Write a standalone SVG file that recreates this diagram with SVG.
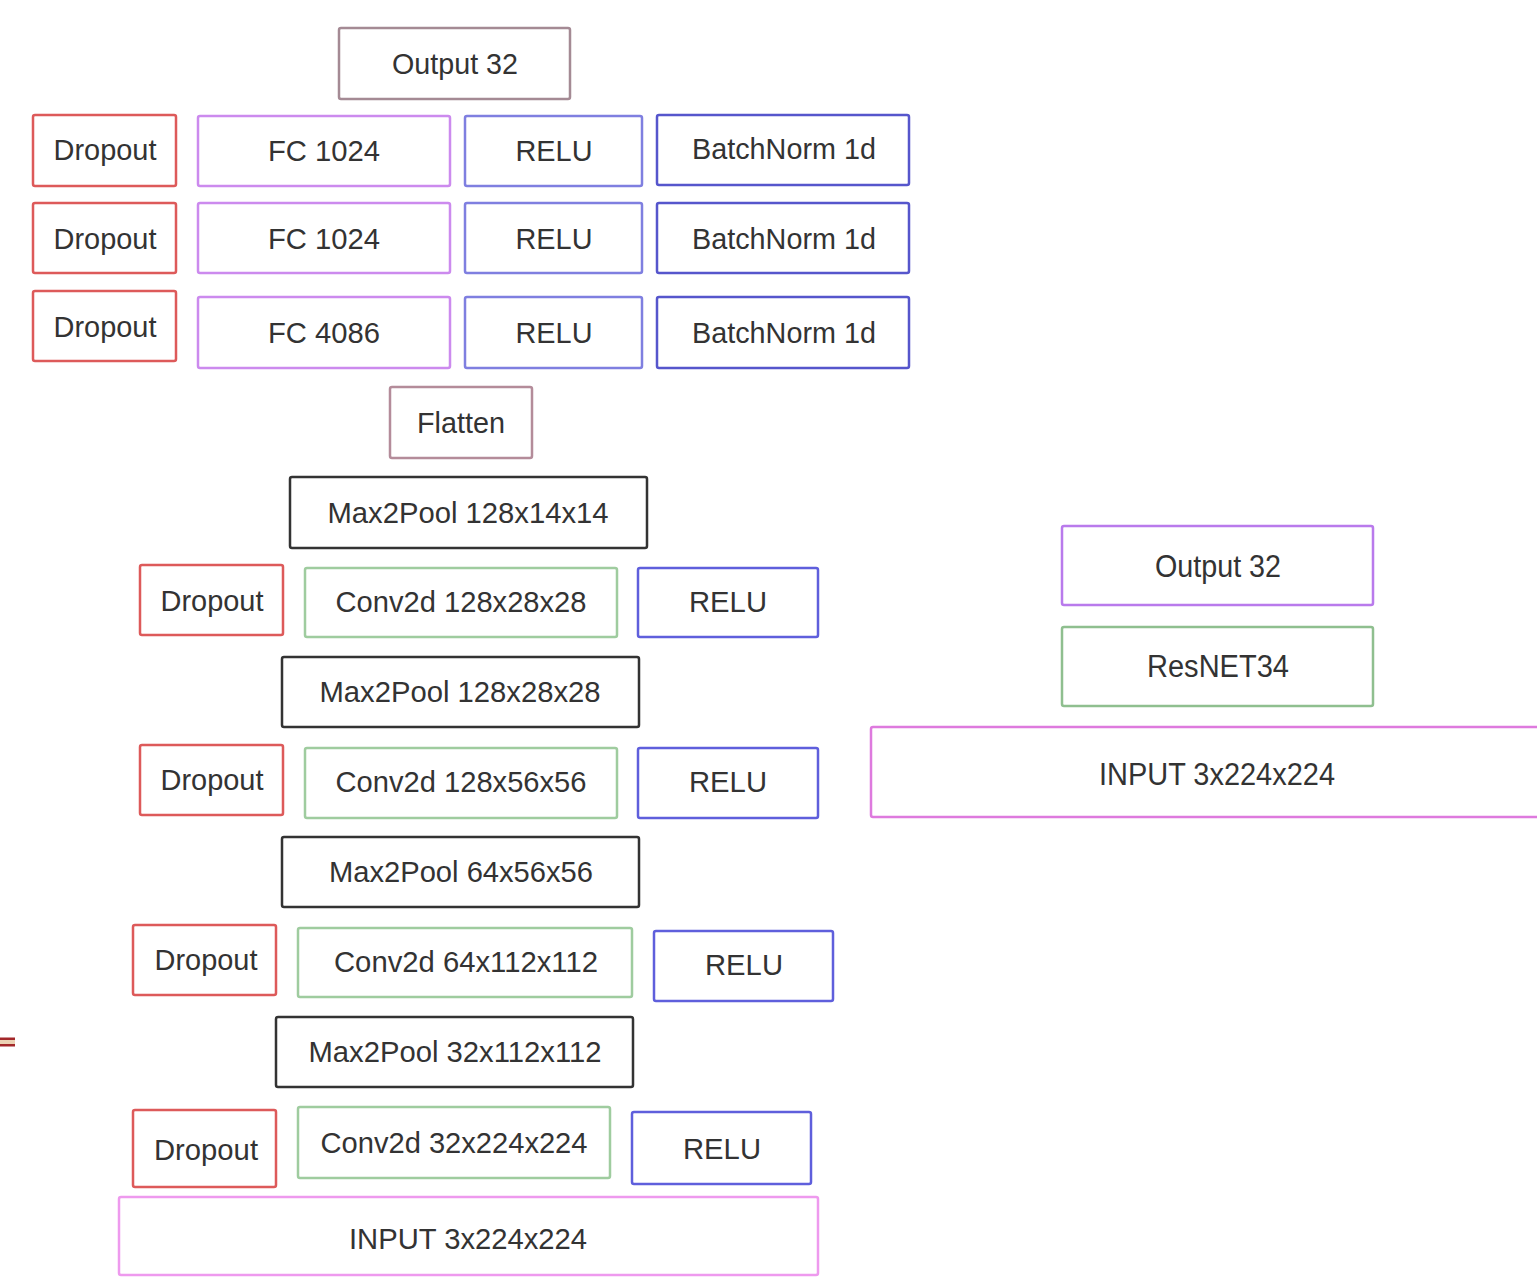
<svg xmlns="http://www.w3.org/2000/svg" width="1537" height="1277" viewBox="0 0 1537 1277">
<style>
rect.b{fill:#fff;stroke-width:2.5}
text{font-family:"Liberation Sans",Arial,sans-serif;font-size:29px;fill:#333;text-anchor:middle}
.out{stroke:#a48a94}
.drop{stroke:#dd5a5a}
.fc{stroke:#cc8aee}
.relu{stroke:#7f7fe0}
.relu2{stroke:#5f5fdc}
.bn{stroke:#5656cc}
.flat{stroke:#b48c9a}
.pool{stroke:#333}
.conv{stroke:#9fcc9f}
.inp{stroke:#ee9aee}
.outr{stroke:#b97aec}
.res{stroke:#8fbf8f}
.inpr{stroke:#de7ade}
</style>
<rect width="1537" height="1277" fill="#fff"/>
<g id="artifact">
<rect x="0" y="1038" width="15" height="8" fill="#ecd2b4"/>
<rect x="0" y="1037.5" width="15" height="2.5" fill="#a3282a"/>
<rect x="0" y="1044" width="15" height="2.5" fill="#a3282a"/>
</g>
<g id="connectors"></g>

<g id="output-top"><rect class="b out" x="339" y="28" width="231" height="71" rx="2"/><text x="455" y="74" textLength="126" lengthAdjust="spacingAndGlyphs">Output 32</text></g>

<g id="dropout-fc1"><rect class="b drop" x="33" y="115" width="143" height="71" rx="2"/><text x="105" y="160" textLength="103" lengthAdjust="spacingAndGlyphs">Dropout</text></g>
<g id="fc1"><rect class="b fc" x="198" y="116" width="252" height="70" rx="2"/><text x="324" y="161" textLength="112" lengthAdjust="spacingAndGlyphs">FC 1024</text></g>
<g id="relu-fc1"><rect class="b relu" x="465" y="116" width="177" height="70" rx="2"/><text x="554" y="161" textLength="77" lengthAdjust="spacingAndGlyphs">RELU</text></g>
<g id="bn1"><rect class="b bn" x="657" y="115" width="252" height="70" rx="2"/><text x="784" y="159" textLength="184" lengthAdjust="spacingAndGlyphs">BatchNorm 1d</text></g>

<g id="dropout-fc2"><rect class="b drop" x="33" y="203" width="143" height="70" rx="2"/><text x="105" y="249" textLength="103" lengthAdjust="spacingAndGlyphs">Dropout</text></g>
<g id="fc2"><rect class="b fc" x="198" y="203" width="252" height="70" rx="2"/><text x="324" y="249" textLength="112" lengthAdjust="spacingAndGlyphs">FC 1024</text></g>
<g id="relu-fc2"><rect class="b relu" x="465" y="203" width="177" height="70" rx="2"/><text x="554" y="249" textLength="77" lengthAdjust="spacingAndGlyphs">RELU</text></g>
<g id="bn2"><rect class="b bn" x="657" y="203" width="252" height="70" rx="2"/><text x="784" y="249" textLength="184" lengthAdjust="spacingAndGlyphs">BatchNorm 1d</text></g>

<g id="dropout-fc3"><rect class="b drop" x="33" y="291" width="143" height="70" rx="2"/><text x="105" y="337" textLength="103" lengthAdjust="spacingAndGlyphs">Dropout</text></g>
<g id="fc3"><rect class="b fc" x="198" y="297" width="252" height="71" rx="2"/><text x="324" y="343" textLength="112" lengthAdjust="spacingAndGlyphs">FC 4086</text></g>
<g id="relu-fc3"><rect class="b relu" x="465" y="297" width="177" height="71" rx="2"/><text x="554" y="343" textLength="77" lengthAdjust="spacingAndGlyphs">RELU</text></g>
<g id="bn3"><rect class="b bn" x="657" y="297" width="252" height="71" rx="2"/><text x="784" y="343" textLength="184" lengthAdjust="spacingAndGlyphs">BatchNorm 1d</text></g>

<g id="flatten"><rect class="b flat" x="390" y="387" width="142" height="71" rx="2"/><text x="461" y="433" textLength="88" lengthAdjust="spacingAndGlyphs">Flatten</text></g>

<g id="pool4"><rect class="b pool" x="290" y="477" width="357" height="71" rx="2"/><text x="468" y="523" textLength="281" lengthAdjust="spacingAndGlyphs">Max2Pool 128x14x14</text></g>

<g id="dropout4"><rect class="b drop" x="140" y="565" width="143" height="70" rx="2"/><text x="212" y="611" textLength="103" lengthAdjust="spacingAndGlyphs">Dropout</text></g>
<g id="conv4"><rect class="b conv" x="305" y="568" width="312" height="69" rx="2"/><text x="461" y="612" textLength="251" lengthAdjust="spacingAndGlyphs">Conv2d 128x28x28</text></g>
<g id="relu4"><rect class="b relu2" x="638" y="568" width="180" height="69" rx="2"/><text x="728" y="612" textLength="78" lengthAdjust="spacingAndGlyphs">RELU</text></g>

<g id="pool3"><rect class="b pool" x="282" y="657" width="357" height="70" rx="2"/><text x="460" y="702" textLength="281" lengthAdjust="spacingAndGlyphs">Max2Pool 128x28x28</text></g>

<g id="dropout3"><rect class="b drop" x="140" y="745" width="143" height="70" rx="2"/><text x="212" y="790" textLength="103" lengthAdjust="spacingAndGlyphs">Dropout</text></g>
<g id="conv3"><rect class="b conv" x="305" y="748" width="312" height="70" rx="2"/><text x="461" y="792" textLength="251" lengthAdjust="spacingAndGlyphs">Conv2d 128x56x56</text></g>
<g id="relu3"><rect class="b relu2" x="638" y="748" width="180" height="70" rx="2"/><text x="728" y="792" textLength="78" lengthAdjust="spacingAndGlyphs">RELU</text></g>

<g id="pool2"><rect class="b pool" x="282" y="837" width="357" height="70" rx="2"/><text x="461" y="882" textLength="264" lengthAdjust="spacingAndGlyphs">Max2Pool 64x56x56</text></g>

<g id="dropout2"><rect class="b drop" x="133" y="925" width="143" height="70" rx="2"/><text x="206" y="970" textLength="103" lengthAdjust="spacingAndGlyphs">Dropout</text></g>
<g id="conv2"><rect class="b conv" x="298" y="928" width="334" height="69" rx="2"/><text x="466" y="972" textLength="264" lengthAdjust="spacingAndGlyphs">Conv2d 64x112x112</text></g>
<g id="relu2"><rect class="b relu2" x="654" y="931" width="179" height="70" rx="2"/><text x="744" y="975" textLength="78" lengthAdjust="spacingAndGlyphs">RELU</text></g>

<g id="pool1"><rect class="b pool" x="276" y="1017" width="357" height="70" rx="2"/><text x="455" y="1062" textLength="293" lengthAdjust="spacingAndGlyphs">Max2Pool 32x112x112</text></g>

<g id="dropout1"><rect class="b drop" x="133" y="1110" width="143" height="77" rx="2"/><text x="206" y="1160" textLength="104" lengthAdjust="spacingAndGlyphs">Dropout</text></g>
<g id="conv1"><rect class="b conv" x="298" y="1107" width="312" height="71" rx="2"/><text x="454" y="1153" textLength="267" lengthAdjust="spacingAndGlyphs">Conv2d 32x224x224</text></g>
<g id="relu1"><rect class="b relu2" x="632" y="1112" width="179" height="72" rx="2"/><text x="722" y="1159" textLength="78" lengthAdjust="spacingAndGlyphs">RELU</text></g>

<g id="input-left"><rect class="b inp" x="119" y="1197" width="699" height="78" rx="2"/><text x="468" y="1249" textLength="238" lengthAdjust="spacingAndGlyphs">INPUT 3x224x224</text></g>

<g id="output-right"><rect class="b outr" x="1062" y="526" width="311" height="79" rx="2"/><text x="1218" y="577" style="font-size:31px" textLength="126" lengthAdjust="spacingAndGlyphs">Output 32</text></g>
<g id="resnet34"><rect class="b res" x="1062" y="627" width="311" height="79" rx="2"/><text x="1218" y="677" style="font-size:31px" textLength="142" lengthAdjust="spacingAndGlyphs">ResNET34</text></g>
<g id="input-right"><rect class="b inpr" x="871" y="727" width="680" height="90" rx="2"/><text x="1217" y="785" style="font-size:31px" textLength="236" lengthAdjust="spacingAndGlyphs">INPUT 3x224x224</text></g>
</svg>
